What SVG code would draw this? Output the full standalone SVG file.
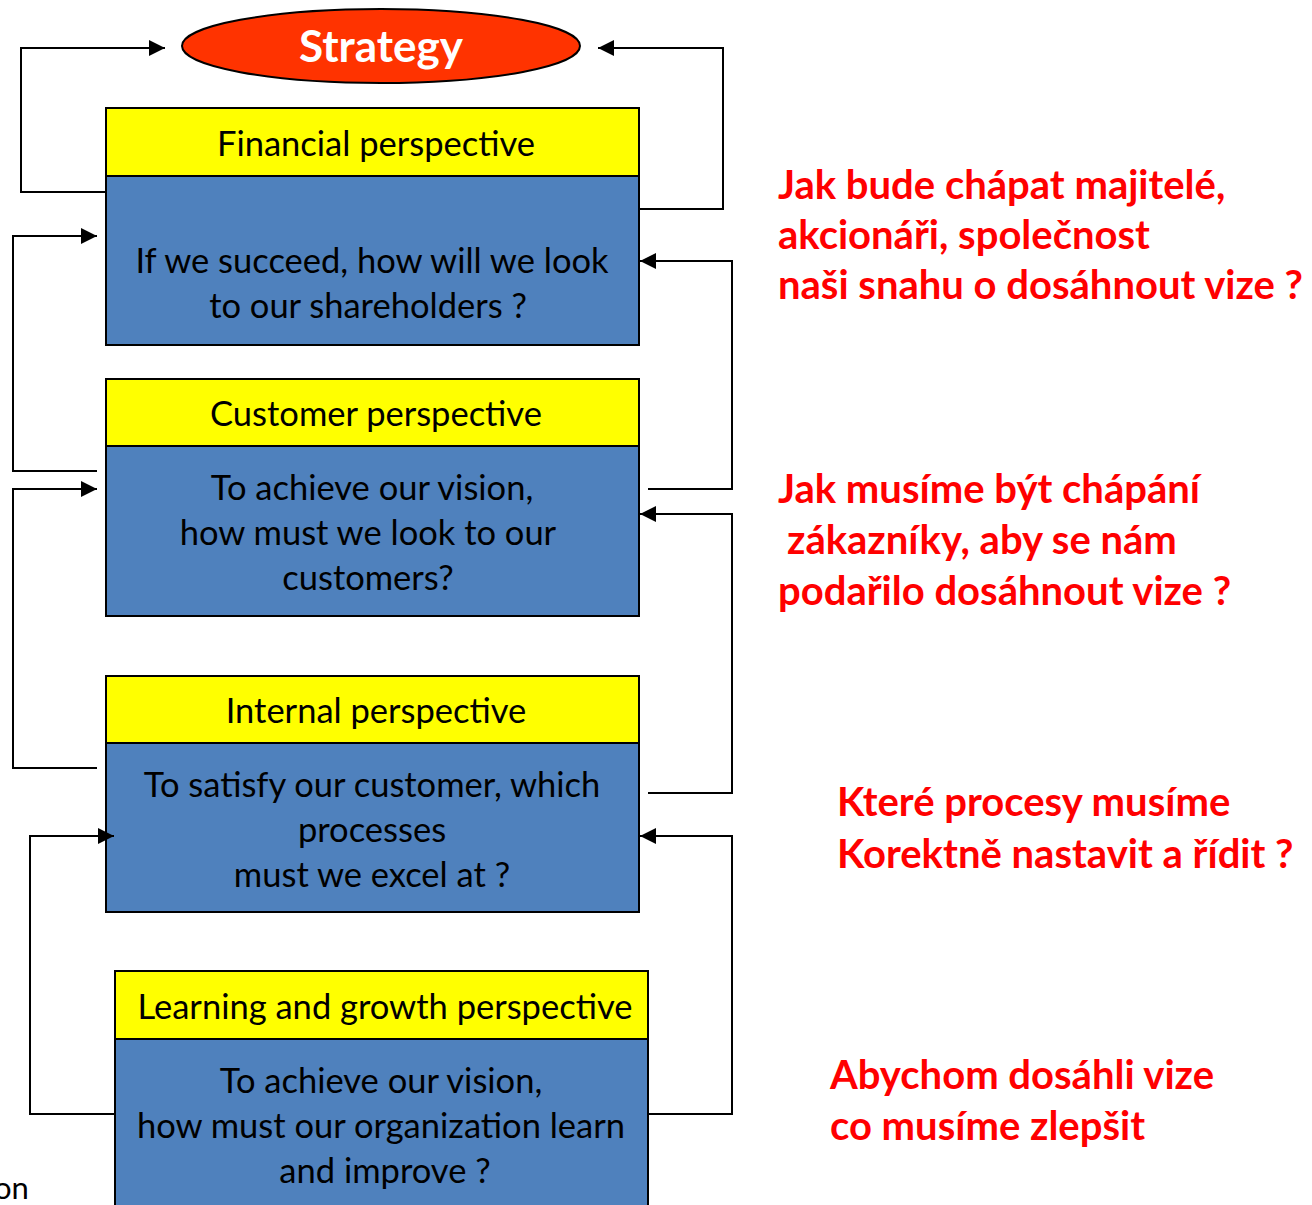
<svg xmlns="http://www.w3.org/2000/svg" width="1312" height="1205" viewBox="0 0 1312 1205">
<defs>
<style>
.hd{fill:#FFFF00;stroke:#000;stroke-width:2}
.bd{fill:#4F81BD;stroke:#000;stroke-width:2}
.t{font-family:Lato,"Open Sans",sans-serif;font-size:34.5px;fill:#000;text-anchor:middle}
.r{font-family:Lato,"Open Sans",sans-serif;font-size:40px;font-weight:bold;fill:#FF0000}
.c{fill:none;stroke:#000;stroke-width:2}
</style>
<marker id="ah" viewBox="0 0 10 10" refX="10" refY="5" markerWidth="16" markerHeight="16" markerUnits="userSpaceOnUse" orient="auto">
<path d="M0,0 L10,5 L0,10 z" fill="#000"/>
</marker>
</defs>
<rect width="1312" height="1205" fill="#fff"/>
<g id="strategy">
<ellipse cx="381" cy="46" rx="199" ry="37" fill="#FF3300" stroke="#000" stroke-width="2"/>
<text x="381" y="62" font-family="Lato,'Open Sans',sans-serif" font-size="44" font-weight="bold" fill="#fff" text-anchor="middle">Strategy</text>
</g>
<g id="financial">
<rect class="hd" x="106" y="108" width="533" height="68"/>
<rect class="bd" x="106" y="176" width="533" height="169"/>
<text class="t" x="376" y="156">Financial perspective</text>
<text class="t" x="372" y="273">If we succeed, how will we look</text>
<text class="t" x="368" y="318">to our shareholders ?</text>
</g>
<g id="customer">
<rect class="hd" x="106" y="379" width="533" height="67"/>
<rect class="bd" x="106" y="446" width="533" height="170"/>
<text class="t" x="376" y="426">Customer perspective</text>
<text class="t" x="372" y="500">To achieve our vision,</text>
<text class="t" x="368" y="545">how must we look to our</text>
<text class="t" x="368" y="590">customers?</text>
</g>
<g id="internal">
<rect class="hd" x="106" y="676" width="533" height="67"/>
<rect class="bd" x="106" y="743" width="533" height="169"/>
<text class="t" x="376" y="723">Internal perspective</text>
<text class="t" x="372" y="797">To satisfy our customer, which</text>
<text class="t" x="372" y="842">processes</text>
<text class="t" x="372" y="887">must we excel at ?</text>
</g>
<g id="learning">
<rect class="hd" x="115" y="971" width="533" height="68"/>
<rect class="bd" x="115" y="1039" width="533" height="175"/>
<text class="t" x="385" y="1019">Learning and growth perspective</text>
<text class="t" x="381" y="1093">To achieve our vision,</text>
<text class="t" x="381" y="1138">how must our organization learn</text>
<text class="t" x="385" y="1183">and improve ?</text>
</g>
<g id="connectors">
<polyline class="c" points="106,192 21,192 21,48 165,48" marker-end="url(#ah)"/>
<polyline class="c" points="639,209 723,209 723,48 598,48" marker-end="url(#ah)"/>
<polyline class="c" points="97,471 13,471 13,236 97,236" marker-end="url(#ah)"/>
<polyline class="c" points="648,489 732,489 732,261 640,261" marker-end="url(#ah)"/>
<polyline class="c" points="97,768 13,768 13,489 97,489" marker-end="url(#ah)"/>
<polyline class="c" points="648,793 732,793 732,514 640,514" marker-end="url(#ah)"/>
<polyline class="c" points="115,1114 30,1114 30,836 114,836" marker-end="url(#ah)"/>
<polyline class="c" points="648,1114 732,1114 732,836 640,836" marker-end="url(#ah)"/>
</g>
<g id="notes">
<text class="r" x="778" y="199">Jak bude chápat majitelé,</text>
<text class="r" x="778" y="249">akcionáři, společnost</text>
<text class="r" x="778" y="299">naši snahu o dosáhnout vize ?</text>
<text class="r" x="778" y="503">Jak musíme být chápání</text>
<text class="r" x="787" y="554">zákazníky, aby se nám</text>
<text class="r" x="778" y="605">podařilo dosáhnout vize ?</text>
<text class="r" x="837" y="816">Které procesy musíme</text>
<text class="r" x="837" y="868">Korektně nastavit a řídit ?</text>
<text class="r" x="830" y="1089">Abychom dosáhli vize</text>
<text class="r" x="830" y="1140">co musíme zlepšit</text>
</g>
<text x="-6" y="1199" font-family="Lato,'Open Sans',sans-serif" font-size="31" fill="#000">on</text>
</svg>
